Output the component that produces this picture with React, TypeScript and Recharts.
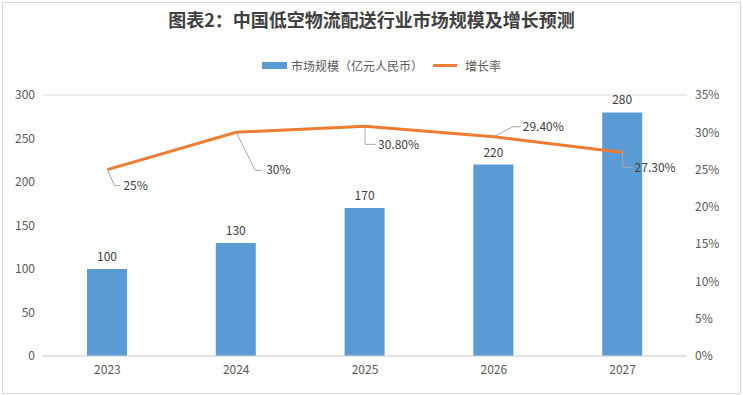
import React from "react"
import {
  ComposedChart,
  Bar,
  Line,
  XAxis,
  YAxis,
  CartesianGrid,
  LabelList,
} from "recharts"

// 年份 / 市场规模（亿元） / 增长率（%）
const years = ["2023", "2024", "2025", "2026", "2027"]
const marketSize = [100, 130, 170, 220, 280]
const growthRate = [25, 30, 30.8, 29.4, 27.3]
const growthLabels = ["25%", "30%", "30.80%", "29.40%", "27.30%"]
const leftTicks = [0, 50, 100, 150, 200, 250, 300]
const rightTicks = [0, 5, 10, 15, 20, 25, 30, 35]

const data = years.map((y, i) => ({
  year: y,
  size: marketSize[i],
  rate: growthRate[i],
  rateLabel: growthLabels[i],
}))

// 引导线：拐点偏移、终点、文字位置（相对数据点）
const leaders = [
  { ex: 7, ey: 16, end: 13, tx: 16 },
  { ex: 19, ey: 38, end: 26, tx: 30 },
  { ex: 0, ey: 18, end: 11, tx: 13 },
  { ex: 19, ey: -10, end: 27, tx: 29 },
  { ex: 0, ey: 15, end: 10, tx: 12 },
]

const FONT = '"Noto Sans CJK SC", "Microsoft YaHei", sans-serif'
const BLUE = "#5B9BD5"
const ORANGE = "#ED7D31"
const TXT = "#404040"

function RateLabel(props: any) {
  const { x, y, index, value } = props
  const l = leaders[index]
  if (!l) return null
  const ex = x + l.ex
  const ey = y + l.ey
  return (
    <g>
      <polyline
        points={`${x},${y} ${ex},${ey} ${x + l.end},${ey}`}
        fill="none"
        stroke="#A6A6A6"
        strokeWidth={1}
      />
      <text
        x={x + l.tx}
        y={ey}
        dy="0.35em"
        fill={TXT}
        fontSize={12}
        fontFamily={FONT}
      >
        {value}
      </text>
    </g>
  )
}

export default function App() {
  return (
    <div
      style={{
        position: "fixed",
        left: 0,
        top: 0,
        width: 743,
        height: 395,
        background: "#fff",
        fontFamily: FONT,
      }}
    >
      <div
        style={{
          position: "absolute",
          left: 2,
          top: 2,
          width: 737,
          height: 390,
          border: "1px solid #D9D9D9",
        }}
      />
      <div
        style={{
          position: "absolute",
          top: 6,
          left: 0,
          width: 743,
          textAlign: "center",
          fontSize: 18,
          fontWeight: "bold",
          color: TXT,
        }}
      >
        图表2：中国低空物流配送行业市场规模及增长预测
      </div>
      <div
        style={{
          position: "absolute",
          top: 57,
          left: 262,
          display: "flex",
          alignItems: "center",
          fontSize: 12,
          color: "#595959",
          whiteSpace: "nowrap",
        }}
      >
        <span style={{ display: "inline-block", width: 25, height: 7, background: BLUE, marginRight: 4 }} />
        <span>市场规模（亿元人民币）</span>
        <span style={{ display: "inline-block", width: 24, height: 3, background: ORANGE, margin: "0 8px 0 10px" }} />
        <span>增长率</span>
      </div>
      <div style={{ position: "absolute", left: 0, top: 0 }}>
        <ComposedChart
          width={743}
          height={395}
          data={data}
          margin={{ top: 95, right: 0, bottom: 0, left: 0 }}
        >
          <CartesianGrid vertical={false} stroke="#D9D9D9" />
          <XAxis
            dataKey="year"
            height={39}
            axisLine={{ stroke: "#D9D9D9" }}
            tickLine={false}
            tickSize={0}
            tickMargin={9}
            tick={{ fill: "#595959", fontSize: 12, fontFamily: FONT }}
          />
          <YAxis
            yAxisId="left"
            domain={[0, 300]}
            ticks={leftTicks}
            width={43}
            axisLine={false}
            tickLine={false}
            tickSize={0}
            tickMargin={8}
            tick={{ fill: "#595959", fontSize: 12, fontFamily: FONT }}
          />
          <YAxis
            yAxisId="right"
            orientation="right"
            domain={[0, 35]}
            ticks={rightTicks}
            width={56}
            axisLine={false}
            tickLine={false}
            tickSize={0}
            tickMargin={8}
            tickFormatter={(v: number) => `${v}%`}
            tick={{ fill: "#595959", fontSize: 12, fontFamily: FONT }}
          />
          <Bar yAxisId="left" dataKey="size" fill={BLUE} barSize={40} isAnimationActive={false}>
            <LabelList
              dataKey="size"
              position="top"
              offset={8}
              fill={TXT}
              fontSize={12}
              fontFamily={FONT}
            />
          </Bar>
          <Line
            yAxisId="right"
            dataKey="rate"
            stroke={ORANGE}
            strokeWidth={3}
            dot={false}
            activeDot={false}
            isAnimationActive={false}
          >
            <LabelList dataKey="rateLabel" content={<RateLabel />} />
          </Line>
        </ComposedChart>
      </div>
    </div>
  )
}
